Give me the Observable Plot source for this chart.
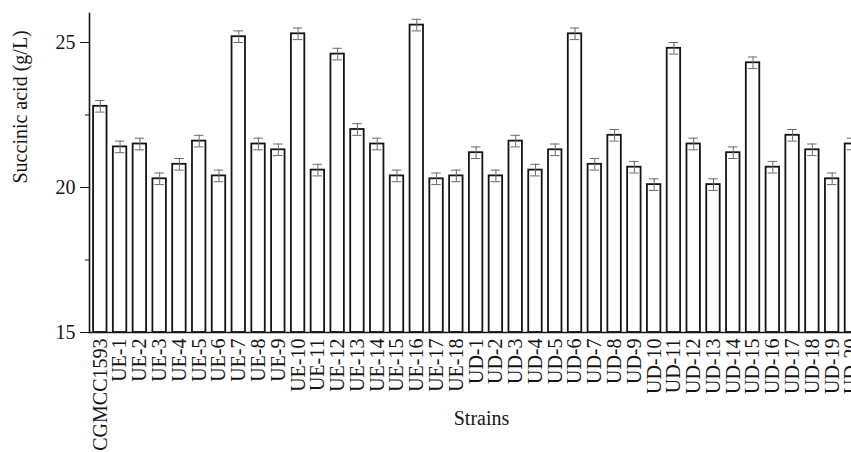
<!DOCTYPE html>
<html><head><meta charset="utf-8">
<script src="https://cdn.jsdelivr.net/npm/d3@7"></script>
<script src="https://cdn.jsdelivr.net/npm/@observablehq/plot@0.6"></script>
<style>html,body{margin:0;padding:0;background:#fff;overflow:hidden;}</style>
</head><body><div id="chart"></div>
<script>
const strains = ["CGMCC1593","UE-1","UE-2","UE-3","UE-4","UE-5","UE-6","UE-7","UE-8","UE-9","UE-10","UE-11","UE-12","UE-13","UE-14","UE-15","UE-16","UE-17","UE-18","UD-1","UD-2","UD-3","UD-4","UD-5","UD-6","UD-7","UD-8","UD-9","UD-10","UD-11","UD-12","UD-13","UD-14","UD-15","UD-16","UD-17","UD-18","UD-19","UD-20"];
const values = [22.8,21.4,21.5,20.3,20.8,21.6,20.4,25.2,21.5,21.3,25.3,20.6,24.6,22.0,21.5,20.4,25.6,20.3,20.4,21.2,20.4,21.6,20.6,21.3,25.3,20.8,21.8,20.7,20.1,24.8,21.5,20.1,21.2,24.3,20.7,21.8,21.3,20.3,21.5];
const errors = [0.2,0.2,0.2,0.2,0.2,0.2,0.2,0.2,0.2,0.2,0.2,0.2,0.2,0.2,0.2,0.2,0.2,0.2,0.2,0.2,0.2,0.2,0.2,0.2,0.2,0.2,0.2,0.2,0.2,0.2,0.2,0.2,0.2,0.2,0.2,0.2,0.2,0.2,0.2];
const yTicks = [15, 20, 25];
const yMinorTicks = [17.5, 22.5];
const xTitle = "Strains";
const yTitle = "Succinic acid (g/L)";

const data = strains.map((s, i) => ({strain: s, value: values[i], err: errors[i]}));
const base = yTicks[0];
const ink = "#151515";
const errInk = "#6a6a6a";

const plot = Plot.plot({
  width: 851,
  height: 452,
  marginLeft: 89,
  marginRight: 0,
  marginTop: 13,
  marginBottom: 120,
  style: {fontFamily: "'Liberation Serif', 'Times New Roman', serif", fontSize: "20px", color: ink, background: "white", overflow: "hidden"},
  x: {type: "band", domain: strains, range: [86.75, 864.5], padding: 0.32},
  y: {domain: [15, 26]},
  marks: [
    Plot.barY(data, {x: "strain", y1: d => base, y2: "value", fill: "white", stroke: ink, strokeWidth: 1.8}),
    Plot.ruleX(data, {x: "strain", y1: d => d.value - d.err, y2: d => d.value + d.err, stroke: errInk, strokeWidth: 1}),
    Plot.tickY(data, {x: "strain", y: d => d.value + d.err, stroke: errInk, strokeWidth: 1, insetLeft: 2, insetRight: 2}),
    Plot.tickY(data, {x: "strain", y: d => d.value - d.err, stroke: errInk, strokeWidth: 1, insetLeft: 2, insetRight: 2}),
    Plot.axisY({ticks: yTicks, tickSize: 9, tickPadding: 5, label: null, fontSize: 20, stroke: ink}),
    Plot.axisY({ticks: yMinorTicks, tickSize: 4, tickFormat: () => "", label: null, stroke: ink}),
    Plot.axisX({tickRotate: -90, tickSize: 0, tickPadding: 6, label: null, fontSize: 20}),
    Plot.frame({anchor: "left", stroke: ink, strokeWidth: 1.6}),
    Plot.frame({anchor: "bottom", stroke: ink, strokeWidth: 1.6}),
    Plot.text([xTitle], {text: d => d, frameAnchor: "bottom", dy: 92, dx: 11, fontSize: 20, fill: ink}),
    Plot.text([yTitle], {text: d => d, frameAnchor: "left", rotate: -90, dx: -69, dy: 10.5, fontSize: 20, fill: ink})
  ]
});
document.getElementById("chart").append(plot);
</script>
</body></html>
